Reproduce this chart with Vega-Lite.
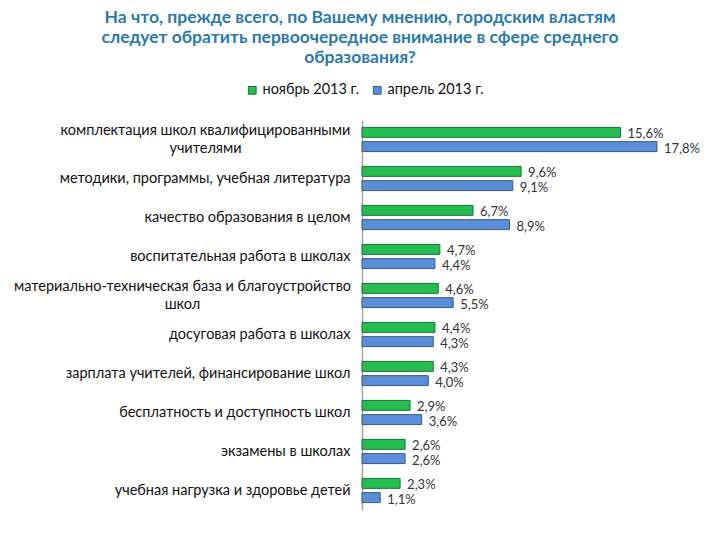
{
  "$schema": "https://vega.github.io/schema/vega-lite/v6.json",
  "background": "white",
  "autosize": {"type": "none"},
  "width": 348,
  "height": 390,
  "padding": {"left": 362, "top": 120, "right": 10, "bottom": 30},
  "title": {
    "text": [
      "На что, прежде всего, по Вашему мнению, городским властям",
      "следует обратить первоочередное внимание в сфере среднего",
      "образования?"
    ],
    "anchor": "middle",
    "dx": -176,
    "offset": 17,
    "font": "Lato",
    "fontSize": 17.5,
    "fontWeight": "bold",
    "color": "#2a7aab",
    "lineHeight": 20
  },
  "config": {
    "view": {"stroke": null},
    "font": "Lato"
  },
  "data": {
    "values": [
      {"cat": "комплектация школ квалифицированными|учителями", "series": "ноябрь 2013 г.", "value": 15.6},
      {"cat": "комплектация школ квалифицированными|учителями", "series": "апрель 2013 г.", "value": 17.8},
      {"cat": "методики, программы, учебная литература", "series": "ноябрь 2013 г.", "value": 9.6},
      {"cat": "методики, программы, учебная литература", "series": "апрель 2013 г.", "value": 9.1},
      {"cat": "качество образования в целом", "series": "ноябрь 2013 г.", "value": 6.7},
      {"cat": "качество образования в целом", "series": "апрель 2013 г.", "value": 8.9},
      {"cat": "воспитательная работа в школах", "series": "ноябрь 2013 г.", "value": 4.7},
      {"cat": "воспитательная работа в школах", "series": "апрель 2013 г.", "value": 4.4},
      {"cat": "материально-техническая база и благоустройство|школ", "series": "ноябрь 2013 г.", "value": 4.6},
      {"cat": "материально-техническая база и благоустройство|школ", "series": "апрель 2013 г.", "value": 5.5},
      {"cat": "досуговая работа в школах", "series": "ноябрь 2013 г.", "value": 4.4},
      {"cat": "досуговая работа в школах", "series": "апрель 2013 г.", "value": 4.3},
      {"cat": "зарплата учителей, финансирование школ", "series": "ноябрь 2013 г.", "value": 4.3},
      {"cat": "зарплата учителей, финансирование школ", "series": "апрель 2013 г.", "value": 4.0},
      {"cat": "бесплатность и доступность школ", "series": "ноябрь 2013 г.", "value": 2.9},
      {"cat": "бесплатность и доступность школ", "series": "апрель 2013 г.", "value": 3.6},
      {"cat": "экзамены в школах", "series": "ноябрь 2013 г.", "value": 2.6},
      {"cat": "экзамены в школах", "series": "апрель 2013 г.", "value": 2.6},
      {"cat": "учебная нагрузка и здоровье детей", "series": "ноябрь 2013 г.", "value": 2.3},
      {"cat": "учебная нагрузка и здоровье детей", "series": "апрель 2013 г.", "value": 1.1}
    ]
  },
  "transform": [
    {"calculate": "replace(format(datum.value, '.1f'), '.', ',') + '%'", "as": "label"}
  ],
  "encoding": {
    "y": {
      "field": "cat",
      "type": "nominal",
      "sort": null,
      "scale": {"paddingInner": 0.38, "paddingOuter": 0.19},
      "axis": {
        "title": null,
        "ticks": false,
        "domainColor": "#a6a6a6",
        "domainWidth": 1.5,
        "labelExpr": "split(datum.value, '|')",
        "labelFontSize": 14.5,
        "labelColor": "#111111",
        "labelLimit": 360,
        "labelLineHeight": 18,
        "labelAlign": {"condition": {"test": "indexof(datum.value, '|') >= 0", "value": "center"}, "value": "right"},
        "labelPadding": {
          "condition": [
            {"test": "indexof(datum.value, 'комплектация') == 0", "value": 157},
            {"test": "indexof(datum.value, 'материально') == 0", "value": 180}
          ],
          "value": 12
        },
        "labelOffset": {"condition": {"test": "indexof(datum.value, '|') >= 0", "value": -9}, "value": 0}
      }
    },
    "yOffset": {
      "field": "series",
      "type": "nominal",
      "sort": ["ноябрь 2013 г.", "апрель 2013 г."],
      "scale": {"domain": ["ноябрь 2013 г.", "апрель 2013 г."], "paddingInner": 0.3}
    },
    "x": {
      "field": "value",
      "type": "quantitative",
      "scale": {"domain": [0, 21], "nice": false},
      "axis": null
    }
  },
  "layer": [
    {
      "mark": {"type": "bar", "strokeWidth": 1},
      "encoding": {
        "color": {
          "field": "series",
          "type": "nominal",
          "scale": {
            "domain": ["ноябрь 2013 г.", "апрель 2013 г."],
            "range": ["#25bd50", "#5b8ed6"]
          },
          "legend": {
            "title": null,
            "orient": "none",
            "direction": "horizontal",
            "legendX": -117,
            "legendY": -37,
            "symbolType": "square",
            "symbolSize": 60,
            "symbolStrokeWidth": 1,
            "labelFontSize": 14.5,
            "labelColor": "#111111",
            "columnPadding": 10,
            "labelOffset": 3
          }
        },
        "stroke": {
          "field": "series",
          "type": "nominal",
          "scale": {
            "domain": ["ноябрь 2013 г.", "апрель 2013 г."],
            "range": ["#17753a", "#34598f"]
          },
          "legend": null
        }
      }
    },
    {
      "mark": {
        "type": "text",
        "align": "left",
        "baseline": "middle",
        "dx": 7,
        "dy": 2,
        "fontSize": 13,
        "color": "#333333"
      },
      "encoding": {
        "text": {"field": "label", "type": "nominal"}
      }
    }
  ]
}
